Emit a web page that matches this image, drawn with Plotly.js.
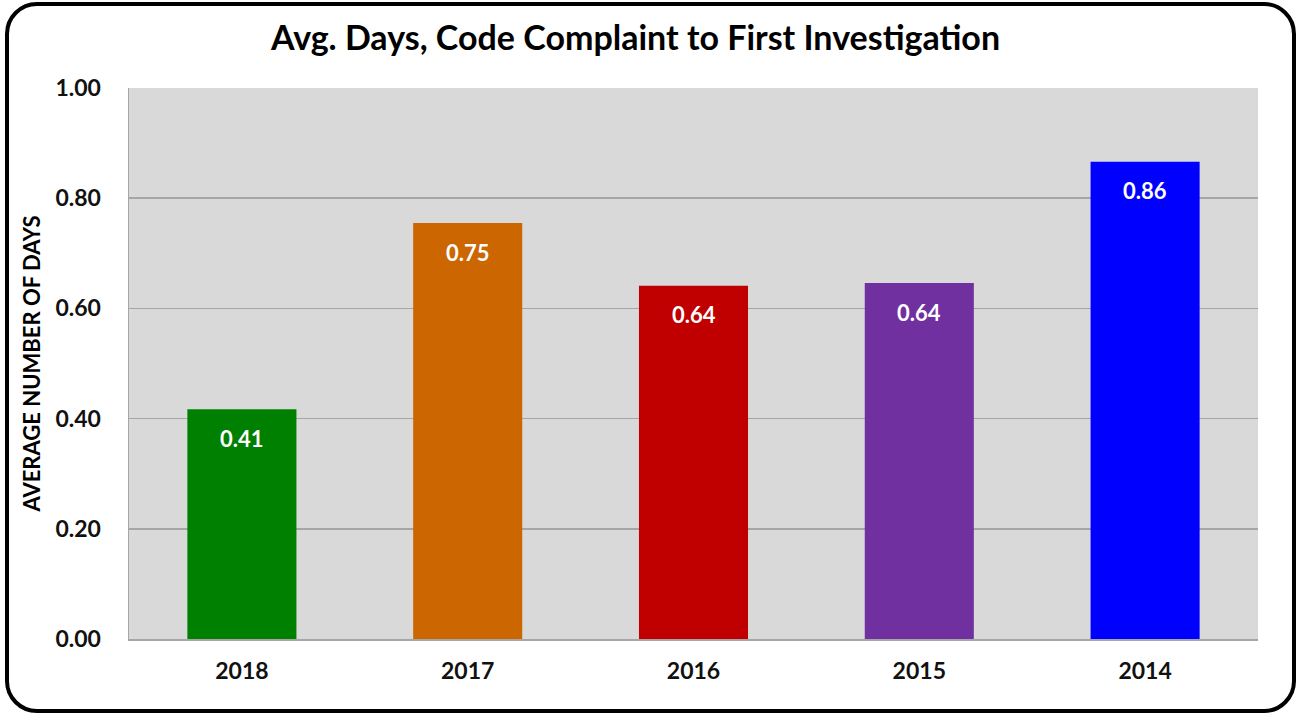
<!DOCTYPE html>
<html>
<head>
<meta charset="utf-8">
<script src="https://cdn.plot.ly/plotly-3.0.1.min.js"></script>
<style>
  html, body { margin: 0; padding: 0; background: #ffffff; }
  #wrap { position: relative; width: 1297px; height: 715px; }
  #chart { position: absolute; left: 0; top: 0; width: 1297px; height: 715px; }
  #frame { position: absolute; left: 5px; top: 2px; width: 1291px; height: 711px;
           box-sizing: border-box; border: 4px solid #000; border-radius: 32px; pointer-events: none; }
</style>
</head>
<body>
<div id="wrap">
  <div id="chart"></div>
  <div id="frame"></div>
</div>
<script>
const years = ['2018', '2017', '2016', '2015', '2014'];
const avgDays = [0.417, 0.755, 0.641, 0.646, 0.866];
const labels = ['0.41', '0.75', '0.64', '0.64', '0.86'];
const colors = ['#008000', '#CC6600', '#C00000', '#7030A0', '#0000FF'];
const yTicks = [0, 0.2, 0.4, 0.6, 0.8, 1.0];

const FONT = 'Lato, "Open Sans", sans-serif';

const trace = {
  type: 'bar',
  x: years,
  y: avgDays,
  marker: { color: colors, line: { width: 0 } },
  width: 0.483,
  hoverinfo: 'none'
};

const annotations = years.map((yr, i) => ({
  x: i, y: avgDays[i], xref: 'x', yref: 'y',
  text: '<b>' + labels[i] + '</b>', showarrow: false,
  yanchor: 'middle', yshift: -29,
  font: { family: FONT, size: 22, color: '#ffffff' }
}));

const layout = {
  width: 1297, height: 715,
  margin: { l: 129, r: 39, t: 88, b: 76 },
  paper_bgcolor: '#ffffff',
  plot_bgcolor: '#D9D9D9',
  showlegend: false,
  title: {
    text: '<b>Avg. Days, Code Complaint to First Investigation</b>',
    font: { family: FONT, size: 34, color: '#000000' },
    x: 0.49, xanchor: 'center', y: 0.947, yanchor: 'middle'
  },
  xaxis: {
    type: 'category',
    categoryorder: 'array', categoryarray: years,
    range: [-0.5, 4.5],
    tickfont: { family: FONT, size: 23, color: '#111111', weight: 'bold' },
    showline: true, linecolor: '#A6A6A6', linewidth: 2,
    ticks: '', ticklen: 0, showgrid: false,
    ticklabelstandoff: 10,
    fixedrange: true
  },
  yaxis: {
    range: [0, 1.0],
    tickvals: yTicks,
    tickformat: '.2f',
    tickfont: { family: FONT, size: 23, color: '#111111', weight: 'bold' },
    ticks: '', ticklen: 0,
    ticklabelstandoff: 22,
    showgrid: true, gridcolor: '#A6A6A6', gridwidth: 1.5,
    zeroline: false,
    showline: true, linecolor: '#A6A6A6', linewidth: 1.5,
    title: {
      text: '<b>AVERAGE NUMBER OF DAYS</b>',
      font: { family: FONT, size: 22, color: '#000000', weight: 'bold' },
      standoff: 8
    },
    fixedrange: true
  },
  annotations: annotations,
  bargap: 0.517
};

Plotly.newPlot('chart', [trace], layout, { displayModeBar: false, staticPlot: true });
</script>
</body>
</html>
